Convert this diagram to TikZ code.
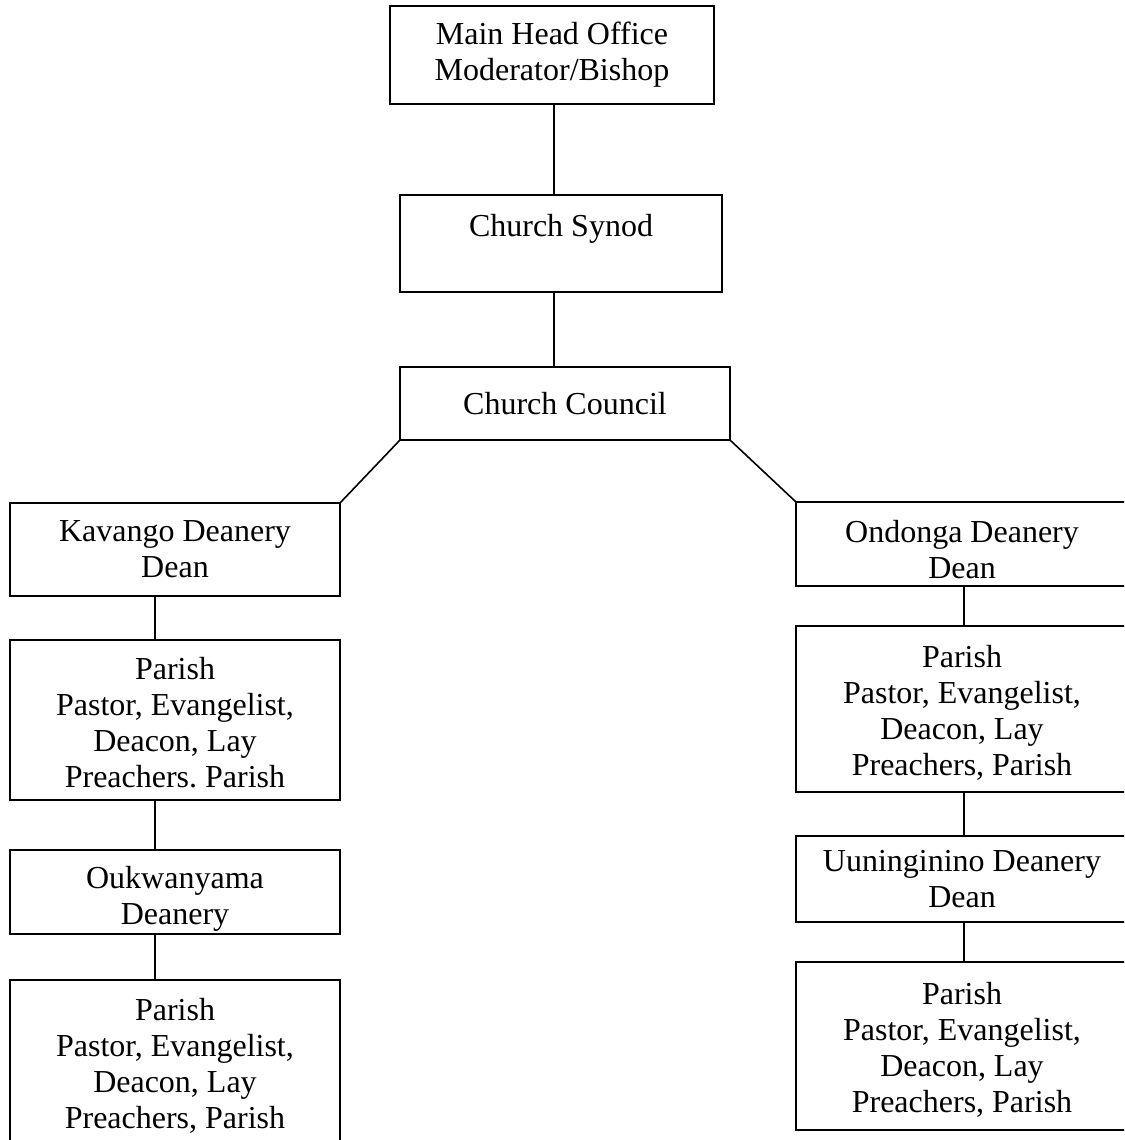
\documentclass[tikz,border=0pt]{standalone}
\usepackage{fontspec}
\setmainfont{Liberation Serif}
\frenchspacing
\tikzset{
    office/.style={shape=rectangle,draw=black,line width=0.8pt,inner sep=0pt,outer sep=0pt,align=center,font=\fontsize{16}{18}\selectfont},
    link/.style={line width=0.8pt}
}
\begin{document}
\begin{tikzpicture}[x=0.5pt,y=-0.5pt]
    \useasboundingbox (0,0) rectangle (1124,1140);
    \clip (0,0) rectangle (1124,1140);
    \node[office,minimum width=162pt,minimum height=49pt] (head) at (552,55) {Main Head Office\\Moderator/Bishop};
    \node[office,minimum width=161pt,minimum height=48.5pt] (synod) at (561,243.5) {Church Synod\\\mbox{}};
    \node[office,minimum width=165pt,minimum height=36.5pt] (council) at (565,403.5) {Church Council};
    \node[office,minimum width=165pt,minimum height=46.5pt] (kavango) at (175,549.5) {Kavango Deanery\\Dean};
    \node[office,minimum width=165pt,minimum height=80pt] (parishA) at (175,720) {\rule{0pt}{14pt}Parish\\Pastor, Evangelist,\\Deacon, Lay\\Preachers. Parish};
    \node[office,minimum width=165pt,minimum height=42pt] (oukwanyama) at (175,892) {\rule{0pt}{18pt}Oukwanyama\\Deanery};
    \node[office,minimum width=165pt,minimum height=86pt] (parishB) at (175,1066) {Parish\\Pastor, Evangelist,\\Deacon, Lay\\Preachers, Parish};
    \node[office,minimum width=166pt,minimum height=42pt] (ondonga) at (962,544) {\rule{0pt}{17pt}Ondonga Deanery\\Dean};
    \node[office,minimum width=166pt,minimum height=83pt] (parishC) at (962,709) {\rule{0pt}{15pt}Parish\\Pastor, Evangelist,\\Deacon, Lay\\Preachers, Parish};
    \node[office,minimum width=166pt,minimum height=43pt] (uuninginino) at (962,879) {Uuninginino Deanery\\Dean};
    \node[office,minimum width=166pt,minimum height=84pt] (parishD) at (962,1046) {\rule{0pt}{15pt}Parish\\Pastor, Evangelist,\\Deacon, Lay\\Preachers, Parish};
    \draw[link] ([xshift=1pt]head.south) -- ([xshift=1pt]synod.north -| head.south);
    \draw[link] ([xshift=1pt]synod.south -| head.south) -- ([xshift=1pt]council.north -| head.south);
    \draw[link] (council.south west) -- (kavango.north east);
    \draw[link] (council.south east) -- (ondonga.north west);
    \draw[link] ([xshift=-10pt]kavango.south) -- ([xshift=-10pt]parishA.north);
    \draw[link] ([xshift=-10pt]parishA.south) -- ([xshift=-10pt]oukwanyama.north);
    \draw[link] ([xshift=-10pt]oukwanyama.south) -- ([xshift=-10pt]parishB.north);
    \draw[link] ([xshift=1pt]ondonga.south) -- ([xshift=1pt]parishC.north);
    \draw[link] ([xshift=1pt]parishC.south) -- ([xshift=1pt]uuninginino.north);
    \draw[link] ([xshift=1pt]uuninginino.south) -- ([xshift=1pt]parishD.north);
\end{tikzpicture}
\end{document}
